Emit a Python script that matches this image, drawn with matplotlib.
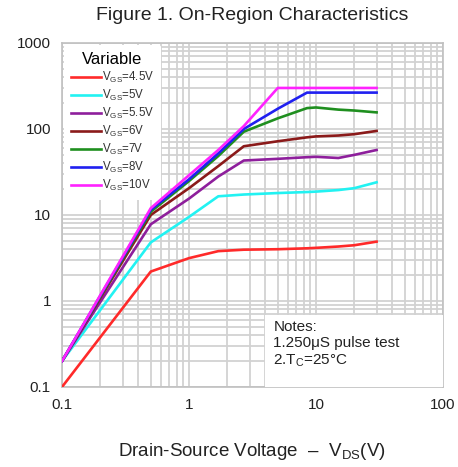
import matplotlib
matplotlib.use("Agg")
import matplotlib.pyplot as plt
from matplotlib.patches import Rectangle
from matplotlib.ticker import FixedLocator, LogLocator, NullFormatter

plt.rcParams['font.family'] = ['Liberation Sans', 'DejaVu Sans']
plt.rcParams['mathtext.fontset'] = 'custom'
plt.rcParams['mathtext.rm'] = 'Liberation Sans'
plt.rcParams['mathtext.it'] = 'Liberation Sans:italic'

# Data
vds = [0.1, 0.5, 1, 1.7, 2.7, 5, 8.5, 10, 15, 20, 30]
id_45v = [0.1, 2.2, 3.15, 3.8, 3.95, 4.0, 4.1, 4.15, 4.3, 4.45, 4.9]
id_5v = [0.2, 4.8, 9.5, 16.5, 17.3, 18.0, 18.5, 18.7, 19.5, 20.5, 24]
id_55v = [0.2, 7.8, 15.5, 28, 43, 45, 47, 47.5, 46, 50, 57]
id_6v = [0.2, 10, 20.5, 37, 63, 72, 80, 82, 84, 87, 95]
id_7v = [0.2, 10.9, 24.8, 48.5, 93, 133, 175, 178, 168, 164, 156]
id_8v = [0.2, 11.5, 26, 52, 100, 172, 265, 265, 265, 265, 265]
id_10v = [0.2, 12, 29, 57, 108, 300, 300, 300, 300, 300, 300]

series_labels = [r'V$_{\mathrm{GS}}$=4.5V', r'V$_{\mathrm{GS}}$=5V', r'V$_{\mathrm{GS}}$=5.5V',
                 r'V$_{\mathrm{GS}}$=6V', r'V$_{\mathrm{GS}}$=7V', r'V$_{\mathrm{GS}}$=8V',
                 r'V$_{\mathrm{GS}}$=10V']
series_colors = ['#ff2a2a', '#22f2f2', '#8e1f9c', '#8b1a1a', '#1f8f1f', '#2020f0', '#ff22ff']
x_ticks = [0.1, 1, 10, 100]
x_ticklabels = ['0.1', '1', '10', '100']
y_ticks = [0.1, 1, 10, 100, 1000]
y_ticklabels = ['0.1', '1', '10', '100', '1000']

fig = plt.figure(figsize=(4.58, 4.67), dpi=100)
ax = fig.add_axes([62/458, 80/467, 381/458, 344/467])

all_series = [id_45v, id_5v, id_55v, id_6v, id_7v, id_8v, id_10v]
for ys, lab, col in zip(all_series, series_labels, series_colors):
    ax.plot(vds, ys, color=col, lw=1.9, label=lab, zorder=3, solid_joinstyle='round')

ax.set_xscale('log')
ax.set_yscale('log')
ax.set_xlim(0.1, 100)
ax.set_ylim(0.1, 1000)
ax.xaxis.set_major_locator(FixedLocator(x_ticks))
ax.set_xticklabels(x_ticklabels)
ax.yaxis.set_major_locator(FixedLocator(y_ticks))
ax.set_yticklabels(y_ticklabels)
ax.xaxis.set_minor_locator(LogLocator(base=10, subs=range(2, 10)))
ax.yaxis.set_minor_locator(LogLocator(base=10, subs=range(2, 10)))
ax.xaxis.set_minor_formatter(NullFormatter())
ax.yaxis.set_minor_formatter(NullFormatter())
ax.tick_params(which='both', length=0, labelsize=11, colors='#222222', pad=8)
ax.grid(True, which='both', color='#d2d2d2', lw=1.3, zorder=0)
ax.set_axisbelow(True)
for s in ax.spines.values():
    s.set_color('#c0c0c0')
    s.set_linewidth(1.2)

leg = ax.legend(loc='upper left', title='Variable', fontsize=8.3, title_fontsize=12,
                frameon=True, facecolor='white', edgecolor='none', framealpha=1,
                borderaxespad=0.15, handlelength=2.6, handletextpad=0.1,
                labelspacing=0.26, borderpad=0.6)
leg.set_zorder(2.5)
for t in leg.get_texts():
    t.set_color('#333333')

# Notes box
ax.add_patch(Rectangle((0.533, 0.0), 0.467, 0.21, transform=ax.transAxes,
                       facecolor='white', edgecolor='none', zorder=4))
ax.text(0.555, 0.195, 'Notes:\n1.250\u03bcS pulse test\n2.T$_{\\mathrm{C}}$=25\u00b0C',
        transform=ax.transAxes, fontsize=11, va='top', ha='left',
        linespacing=1.2, color='#222222', zorder=6)

fig.text(252.5/458, 1 - 16/467, 'Figure 1. On-Region Characteristics',
         ha='center', va='center', fontsize=14, color='#222222')
fig.text(252/458, 1 - 452/467, 'Drain-Source Voltage  \u2013  V$_{\\mathrm{DS}}$(V)',
         ha='center', va='center', fontsize=13.5, color='#222222')

fig.savefig('out.png', dpi=100)
